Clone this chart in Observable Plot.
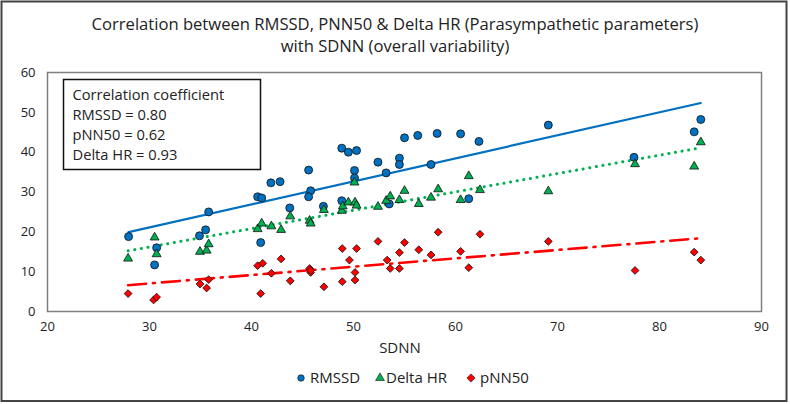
<!DOCTYPE html>
<html>
<head>
<meta charset="utf-8">
<script src="https://cdn.jsdelivr.net/npm/d3@7"></script>
<script src="https://cdn.jsdelivr.net/npm/@observablehq/plot@0.6"></script>
<style>
  body { margin: 0; background: #fff; }
  #chart svg { display: block; }
</style>
</head>
<body>
<div id="chart"></div>
<script>
// values
const sdnnRmssd = [27.95,30.5,30.7,34.9,35.5,35.8,40.9,40.6,41.0,41.9,42.8,43.75,45.6,45.8,45.6,47.05,48.85,48.85,49.5,50.3,50.1,50.1,52.4,53.2,53.5,54.5,54.5,55.0,56.3,58.2,57.6,60.5,62.3,61.3,69.1,77.5,83.4,84.05]
const rmssd     = [18.8,11.7,16.0,19.0,20.5,25.0,17.3,28.8,28.5,32.3,32.6,26.0,35.5,30.3,28.8,26.4,27.8,41.0,40.0,40.4,35.4,33.5,37.5,34.8,27.0,38.5,36.9,43.6,44.2,44.7,36.9,44.6,42.7,28.3,46.8,38.7,45.1,48.2]

const sdnnDelta = [27.9,30.5,30.7,34.95,35.6,35.8,40.6,41.0,41.95,42.9,43.8,45.7,45.8,47.1,48.85,48.95,49.5,50.15,50.3,50.1,52.4,53.2,53.6,54.5,55.0,56.4,57.6,58.3,60.5,61.3,62.4,69.1,77.6,83.4,84.05]
const deltaHR   = [13.3,18.6,14.4,15.0,15.3,16.9,20.7,22.1,21.4,20.5,23.9,22.8,22.1,25.5,25.3,26.4,27.4,27.4,26.6,32.4,26.3,27.8,28.9,28.0,30.3,27.0,28.6,30.7,28.0,34.0,30.5,30.2,37.0,36.4,42.5]

const sdnnPnn = [27.9,30.4,30.7,34.95,35.6,35.8,40.6,41.1,40.9,41.95,42.9,43.8,45.7,45.8,45.8,47.1,48.9,48.9,49.6,50.15,50.15,50.3,52.4,53.3,53.6,54.5,54.5,55.0,56.4,57.6,58.3,60.5,61.3,62.4,69.1,77.6,83.4,84.05]
const pnn50   = [4.5,2.9,3.6,6.9,5.9,8.0,11.5,12.1,4.5,9.6,13.2,7.7,10.8,9.8,10.3,6.2,7.5,15.8,12.9,9.8,7.9,15.8,17.6,12.9,10.8,10.8,14.8,17.3,15.5,14.2,19.9,15.1,11.0,19.4,17.6,10.3,14.9,12.9]

const xTicks = [20,30,40,50,60,70,80,90]
const yTicks = [0,10,20,30,40,50,60]
const boxLines = ["Correlation coefficient","RMSSD = 0.80","pNN50 = 0.62","Delta HR = 0.93"]

const blue = "#0070C0", green = "#00B050", red = "#FF0000"
const font = "Open Sans, sans-serif"

const rmssdRows = sdnnRmssd.map((x,i) => ({x, y: rmssd[i]}))
const deltaRows = sdnnDelta.map((x,i) => ({x, y: deltaHR[i]}))
const pnnRows   = sdnnPnn.map((x,i) => ({x, y: pnn50[i]}))

let chart = Plot.plot({
  width: 790,
  height: 404,
  marginLeft: 47,
  marginRight: 29,
  marginTop: 72,
  marginBottom: 93,
  style: {fontFamily: font, fontSize: "13px", color: "#222", background: "#fff"},
  x: {domain: [20,90], ticks: xTicks, tickSize: 0, tickPadding: 10, label: null},
  y: {domain: [0,60], ticks: yTicks, tickSize: 0, tickPadding: 12, label: null},
  marks: [
    Plot.frame({stroke: "#808080", strokeWidth: 1.5}),
    Plot.linearRegressionY(rmssdRows, {x:"x", y:"y", ci:0, stroke: blue, strokeWidth: 2.2}),
    Plot.linearRegressionY(deltaRows, {x:"x", y:"y", ci:0, stroke: green, strokeWidth: 3, strokeLinecap: "round", strokeDasharray: "0.1 6.6"}),
    Plot.linearRegressionY(pnnRows, {x:"x", y:"y", ci:0, stroke: red, strokeWidth: 2.6, strokeDasharray: "18 7 2 7"}),
    Plot.dot(rmssdRows, {x:"x", y:"y", symbol:"circle", r:4, fill: blue, stroke:"#111", strokeWidth:0.8}),
    Plot.dot(deltaRows, {x:"x", y:"y", symbol:"triangle", r:3.3, fill: green, stroke:"#111", strokeWidth:0.8}),
    Plot.dot(pnnRows, {x:"x", y:"y", symbol:"square", rotate:45, r:3.1, fill: red, stroke:"#111", strokeWidth:0.8}),
  ]
})

const svg = d3.select(chart)

// outer border
svg.append("rect").attr("x",1.5).attr("y",1.5).attr("width",785).attr("height",399.5)
  .attr("fill","none").attr("stroke","#444").attr("stroke-width",2)

// title
const title = svg.append("text").attr("text-anchor","middle").attr("font-family",font)
  .attr("font-size",16.6).attr("fill","#222")
title.append("tspan").attr("x",395).attr("y",30).text("Correlation between RMSSD, PNN50 & Delta HR (Parasympathetic parameters)")
title.append("tspan").attr("x",395).attr("y",52).text("with SDNN (overall variability)")

// x axis title
svg.append("text").attr("x",400).attr("y",353).attr("text-anchor","middle")
  .attr("font-family",font).attr("font-size",15).attr("fill","#222").text("SDNN")

// correlation box
svg.append("rect").attr("x",63.5).attr("y",79.5).attr("width",197).attr("height",90)
  .attr("fill","#fff").attr("stroke","#111").attr("stroke-width",1.5)
svg.append("g").selectAll("text").data(boxLines).join("text")
  .attr("x",72.5).attr("y",(d,i) => 100 + i*20).attr("text-anchor","start")
  .attr("font-family",font).attr("font-size",14.7).attr("fill","#222").text(d => d)

// legend
const legend = [
  {label:"RMSSD", sym:d3.symbolCircle, fill:blue, x:301, tx:310},
  {label:"Delta HR", sym:d3.symbolTriangle, fill:green, x:380, tx:386},
  {label:"pNN50", sym:d3.symbolSquare, fill:red, x:471, tx:480, rot:45},
]
const lg = svg.append("g")
legend.forEach(d => {
  lg.append("path").attr("d", d3.symbol(d.sym, 34)())
    .attr("transform", `translate(${d.x},378) rotate(${d.rot || 0})`)
    .attr("fill", d.fill).attr("stroke","#111").attr("stroke-width",0.6)
  lg.append("text").attr("x", d.tx).attr("y", 383).attr("text-anchor","start").attr("font-family",font)
    .attr("font-size",15).attr("fill","#222").text(d.label)
})

d3.select('#chart').append(() => chart)
</script>
</body>
</html>
